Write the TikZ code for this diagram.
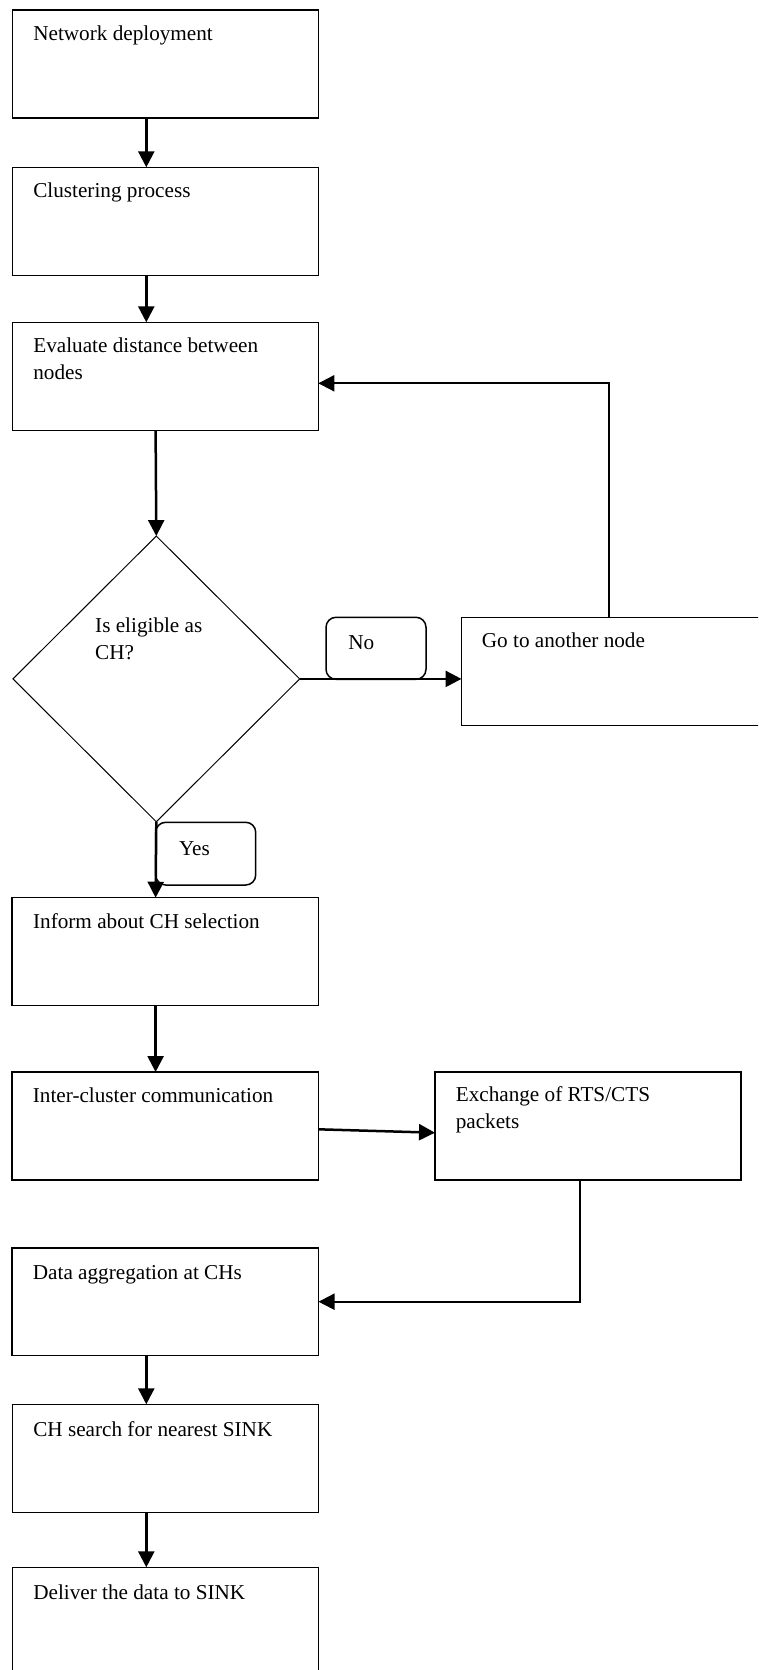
\documentclass[tikz,border=0pt]{standalone}
\usepackage{fontspec}
\setmainfont{Liberation Serif}
\usetikzlibrary{arrows.meta,shapes.geometric,calc}
\tikzset{
  box/.style={draw, line width=1.3pt, rectangle, inner sep=0pt, outer sep=0pt,
    minimum width=306pt, minimum height=108pt, anchor=north west},
  txt/.style={anchor=base west, inner sep=0pt, outer sep=0pt,
    font=\fontsize{21.2}{27}\selectfont},
  arr/.style={line width=2.5pt, -{Triangle[length=16pt,width=16pt]}},
  loopline/.style={line width=2pt, -{Triangle[length=16pt,width=16pt]}},
  tag/.style={draw, line width=1.5pt, rounded corners=10pt, inner sep=0pt,
    outer sep=0pt, anchor=north west},
}
\newcommand{\ml}[1]{\begin{tabular}[t]{@{}l@{}}#1\end{tabular}}
\begin{document}
\begin{tikzpicture}[x=1pt,y=-1pt]
\useasboundingbox (0,0) rectangle (758,1670);
\clip (0,0) rectangle (758,1670);

% boxes
\node[box] (b1) at (12.3,10) {};
\node[box] (b2) at (12.3,167.3) {};
\node[box] (b3) at (12.3,322.3) {};
\node[draw, diamond, line width=1pt, inner sep=0pt, outer sep=0pt,
  minimum width=286.7pt, minimum height=285.7pt] (dia) at (156.3,678.9) {};
\node[box] (go) at (461.5,617.3) {};
\node[box, minimum width=306.4pt, minimum height=107.5pt] (b4) at (12.1,897.7) {};
\node[box, minimum width=306.4pt] (b5) at (12.1,1072) {};
\node[box] (b6) at (435,1072) {};
\node[box, minimum width=306.4pt, minimum height=107.7pt] (b7) at (12.1,1248) {};
\node[box, minimum height=108.4pt] (b8) at (12.3,1404.3) {};
\node[box] (b9) at (12.3,1567.3) {};

% label tags
\node[tag, minimum width=100pt, minimum height=62pt] (no) at (326,617.3) {};
\node[tag, minimum width=100pt, minimum height=62.7pt] (yes) at (155.7,822.3) {};

% texts
\node[txt] (t1) at ($(b1.north west)+(21,31)$) {Network deployment};
\node[txt] (t2) at ($(b2.north west)+(21,30.6)$) {Clustering process};
\node[txt] (t3) at ($(b3.north west)+(21,30)$) {\ml{Evaluate distance between\\nodes}};
\node[txt] (td) at (95.2,632.7) {\ml{Is eligible as\\CH?}};
\node[txt] (tno) at (348.3,649.3) {No};
\node[txt] (tyes) at (179,855) {Yes};
\node[txt] (tgo) at ($(go.north west)+(20.4,30.4)$) {Go to another node};
\node[txt] (t4) at ($(b4.north west)+(21,31)$) {Inform about CH selection};
\node[txt] (t5) at ($(b5.north west)+(20.8,30.3)$) {Inter-cluster communication};
\node[txt] (t6) at ($(b6.north west)+(20.8,29.7)$) {\ml{Exchange of RTS/CTS\\packets}};
\node[txt] (t7) at ($(b7.north west)+(20.8,31)$) {Data aggregation at CHs};
\node[txt] (t8) at ($(b8.north west)+(21,31.7)$) {CH search for nearest SINK};
\node[txt] (t9) at ($(b9.north west)+(21,32)$) {Deliver the data to SINK};

% helper coordinates
\coordinate (colA) at (146.3,0);
\coordinate (colB) at (155.6,0);
\coordinate (L1) at (609,383.3);
\coordinate (L2) at (579.5,1301.7);

% connectors
\draw[arr] (b1.south -| colA) -- (b2.north -| colA);
\draw[arr] (b2.south -| colA) -- (b3.north -| colA);
\draw[arr] (b3.south -| colB) -- (dia.north);
\draw[arr] (dia.south) -- (b4.north -| colB);
\draw[arr] (dia.east) -- (dia.east -| go.west);
\draw[loopline] (go.north -| L1) -- (L1) -- (L1 -| b3.east);
\draw[arr] (b4.south -| colB) -- (b5.north -| colB);
\draw[arr] ($(b5.east)+(0,3.3)$) -- ($(b6.west)+(0,6.7)$);
\draw[loopline] (b6.south -| L2) -- (L2) -- (L2 -| b7.east);
\draw[arr] (b7.south -| colA) -- (b8.north -| colA);
\draw[arr] (b8.south -| colA) -- (b9.north -| colA);
\end{tikzpicture}
\end{document}
